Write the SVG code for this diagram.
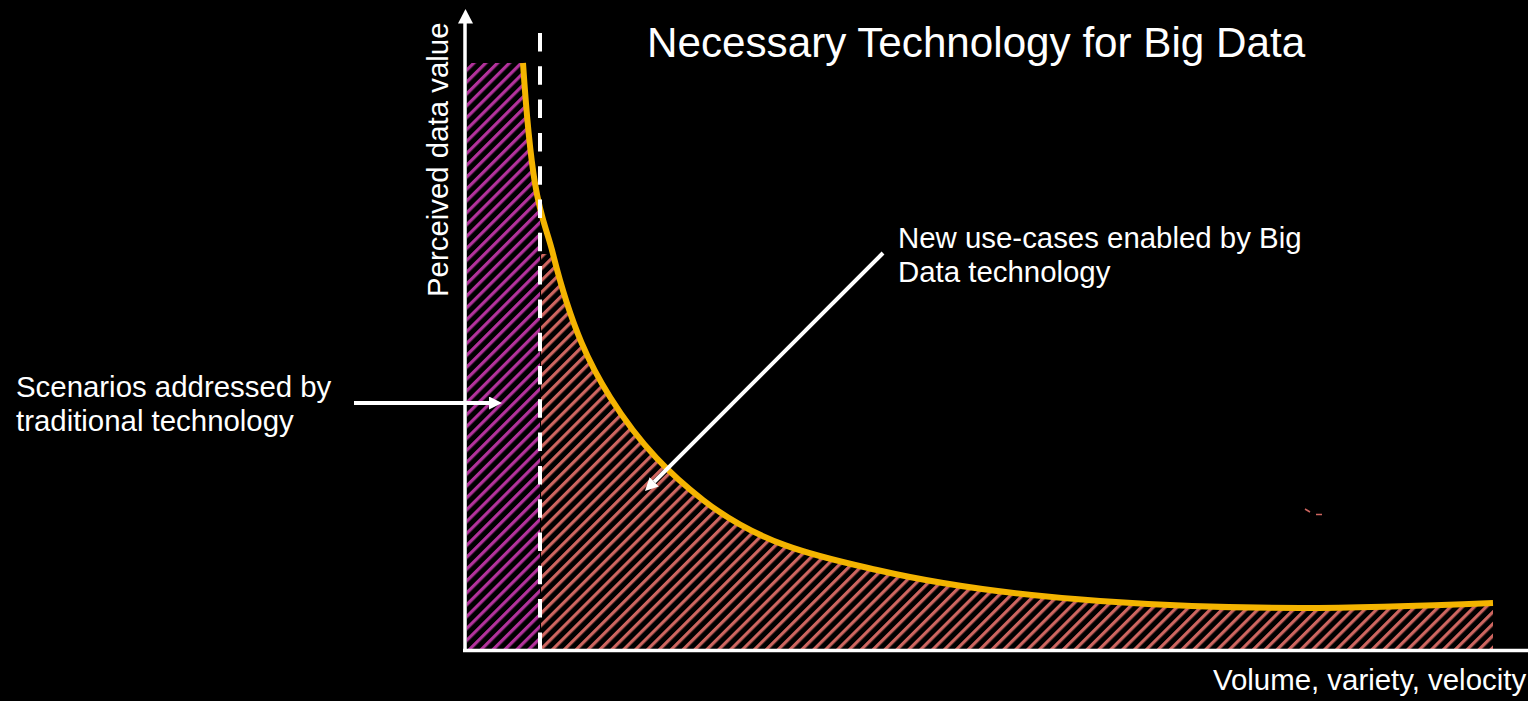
<svg xmlns="http://www.w3.org/2000/svg" xmlns:xlink="http://www.w3.org/1999/xlink" width="1528" height="701" viewBox="0 0 1528 701">
  <style>
    .lbl { font-family: "Liberation Sans", Arial, sans-serif; fill: #ffffff; font-size: 29.4px; }
    .title { font-family: "Liberation Sans", Arial, sans-serif; fill: #ffffff; font-size: 42.2px; }
    .axis { stroke: #ffffff; stroke-width: 3.5; fill: none; }
    .conn { stroke: #ffffff; stroke-width: 4; fill: none; }
    .curve { stroke: #F4B400; stroke-width: 6; fill: none; stroke-linejoin: round; }
    .divider { stroke: #ffffff; stroke-width: 4; stroke-dasharray: 18.5 14.8; fill: none; }
  </style>
  <defs>
    <pattern id="hatchP" patternUnits="userSpaceOnUse" width="20" height="8.4" patternTransform="rotate(-45)">
      <rect x="0" y="0" width="20" height="3.2" fill="#B3329C"/>
    </pattern>
    <pattern id="hatchS" patternUnits="userSpaceOnUse" width="20" height="8.4" patternTransform="rotate(-45)">
      <rect x="0" y="0" width="20" height="3.2" fill="#CE6660"/>
    </pattern>
    <path id="area" d="M467,63 L523,63 C533,213 543,214 553,254 C572,330 591,366.6 610,397 C641,446.6 672,475.8 703,500 C761,545.2 819,556.7 877,570 C951.3,587.1 1025.7,595.8 1100,601 C1166.7,605.7 1233.3,608 1300,608 C1364.3,608 1428.7,605.6 1493,603 L1493,649 L467,649 Z"/>
    <clipPath id="cpL"><rect x="467" y="60" width="73" height="590"/></clipPath>
    <clipPath id="cpR"><rect x="541" y="254" width="952" height="396"/></clipPath>
    <marker id="head" viewBox="0 0 13 13" refX="0" refY="6.5" markerWidth="13" markerHeight="13" markerUnits="userSpaceOnUse" orient="auto">
      <path d="M0,0 L13,6.5 L0,13 Z" fill="#ffffff"/>
    </marker>
  </defs>
  <rect x="0" y="0" width="1528" height="701" fill="#000000"/>

  <g id="region-traditional" clip-path="url(#cpL)">
    <use xlink:href="#area" href="#area" fill="url(#hatchP)"/>
  </g>
  <g id="region-bigdata" clip-path="url(#cpR)">
    <use xlink:href="#area" href="#area" fill="url(#hatchS)"/>
  </g>
  <g id="artifact">
    <line x1="1305" y1="509" x2="1310" y2="512" stroke="#CE6660" stroke-width="1.5"/>
    <line x1="1316" y1="514.5" x2="1322" y2="514.5" stroke="#CE6660" stroke-width="1.5"/>
  </g>

  <g id="value-curve">
    <path class="curve" d="M523,63 C533,213 543,214 553,254 C572,330 591,366.6 610,397 C641,446.6 672,475.8 703,500 C761,545.2 819,556.7 877,570 C951.3,587.1 1025.7,595.8 1100,601 C1166.7,605.7 1233.3,608 1300,608 C1364.3,608 1428.7,605.6 1493,603"/>
  </g>

  <g id="divider">
    <line class="divider" x1="540" y1="33" x2="540" y2="649"/>
  </g>

  <g id="axes">
    <line class="axis" x1="465" y1="22" x2="465" y2="652"/>
    <polygon points="465.5,9 458,23.5 473,23.5" fill="#ffffff"/>
    <line class="axis" x1="463" y1="650.5" x2="1528" y2="650.5"/>
  </g>

  <g id="title">
    <text class="title" x="647" y="57">Necessary Technology for Big Data</text>
  </g>
  <g id="y-label">
    <text class="lbl" transform="translate(448,297) rotate(-90)">Perceived data value</text>
  </g>
  <g id="x-label">
    <text class="lbl" x="1213" y="690">Volume, variety, velocity</text>
  </g>
  <g id="label-traditional">
    <text class="lbl" x="16" y="397">Scenarios addressed by</text>
    <text class="lbl" x="16" y="431">traditional technology</text>
  </g>
  <g id="label-bigdata">
    <text class="lbl" x="898" y="248">New use-cases enabled by Big</text>
    <text class="lbl" x="898" y="282">Data technology</text>
  </g>

  <g id="connectors">
    <line class="conn" x1="354" y1="403" x2="489" y2="403" marker-end="url(#head)"/>
    <line class="conn" x1="883" y1="253" x2="654.2" y2="481.8" stroke-width="3" marker-end="url(#head)"/>
  </g>
</svg>
